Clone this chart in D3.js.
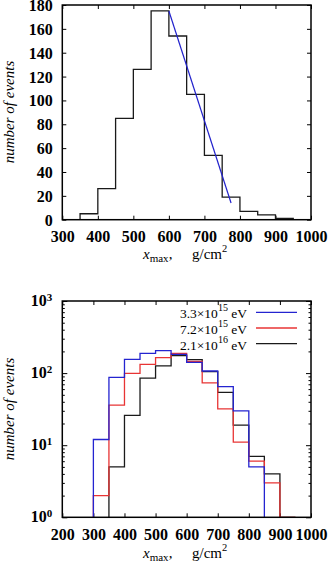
<!DOCTYPE html>
<meta charset="utf-8">
<title>xmax histograms</title>
<style>
body { margin: 0; background: #fff; }
svg { display: block; }
.tick text { font: bold 16px "Liberation Serif", "DejaVu Serif", serif; fill: #000; }
.tick line { stroke: #000; stroke-width: 1; }
.title { font: 15px "Liberation Serif", serif; fill: #000; }
.key { font: 13.5px "Liberation Serif", serif; fill: #000; }
</style>
<svg id="chart" width="328" height="570"></svg>
<script src="https://d3js.org/d3.v7.min.js"></script>
<script>

// top panel: single histogram, bins of 50 g/cm2
var topBins = [350, 400, 450, 500, 550, 600, 650, 700, 750, 800, 850, 900];
var topCounts = [5, 26, 85, 126, 175, 154, 105, 54, 19, 7, 4, 1];
var fitLine = [[600, 175], [775, 14]];
var topXTicks = [300, 400, 500, 600, 700, 800, 900, 1000];
var topYTicks = [0, 20, 40, 60, 80, 100, 120, 140, 160, 180];

// bottom panel: three energies, log scale
var binsBlue = [300, 350, 400, 450, 500, 550, 600, 650, 700, 750, 800];
var countsBlue = [12, 87, 155, 188, 205, 182, 141, 107, 65, 30, 5];
var binsRed = [300, 350, 400, 450, 500, 550, 600, 650, 700, 750, 800, 850, 900];
var countsRed = [2, 36, 99, 132, 164, 188, 145, 73, 32, 11, 6, 3, 1];
var binsBlack = [350, 400, 450, 500, 550, 600, 650, 700, 750, 800, 850, 900];
var countsBlack = [5, 26, 85, 126, 175, 154, 105, 54, 19, 7, 4, 1];
var keyLabels = [["3.3\u00d710", "15"], ["7.2\u00d710", "15"], ["2.1\u00d710", "16"]];
var botXTicks = [200, 300, 400, 500, 600, 700, 800, 900, 1000];
var botYTicks = [1, 10, 100, 1000];

var binWidth = 50;
var svg = d3.select("#chart");
var fmt = d3.format("d");

function stepPoints(bins, counts, floor) {
  var pts = [[bins[0], floor]];
  bins.forEach(function(b, i) { pts.push([b, counts[i]]); });
  pts.push([bins[bins.length - 1] + binWidth, floor]);
  return pts;
}

function frame(g, x0, x1, y0, y1) {
  g.append("rect")
    .attr("x", x0).attr("y", y1)
    .attr("width", x1 - x0).attr("height", y0 - y1)
    .attr("fill", "none").attr("stroke", "#000").attr("stroke-width", 1.5);
}

function xTitle(g, x, y) {
  var t = g.append("text").attr("class", "title").attr("x", x).attr("y", y);
  t.append("tspan").style("font-style", "italic").text("x");
  t.append("tspan").attr("dy", 3).style("font-size", "11px").text("max");
  t.append("tspan").attr("dy", -3).text(",");
  t.append("tspan").attr("x", x + 49).text("g/cm");
  t.append("tspan").attr("dy", -7).style("font-size", "10.5px").text("2");
}

function yTitle(g, x, cy) {
  g.append("text").attr("class", "title")
    .attr("transform", "translate(" + x + "," + cy + ") rotate(-90)")
    .attr("text-anchor", "middle")
    .style("font-style", "italic")
    .text("number of events");
}

// ---------- top panel ----------
var L = 62.3, R = 311;
var x1 = d3.scaleLinear().domain([300, 1000]).range([L, R]);
var y1 = d3.scaleLinear().domain([0, 180]).range([219.7, 5]);
var g1 = svg.append("g");

g1.append("g").attr("transform", "translate(0," + y1(0) + ")")
  .call(d3.axisBottom(x1).tickValues(topXTicks).tickSize(-4).tickPadding(11).tickFormat(fmt))
  .call(function(a) { a.select(".domain").remove(); });
g1.append("g").attr("transform", "translate(0," + y1(180) + ")")
  .call(d3.axisTop(x1).tickValues(topXTicks).tickSize(-4).tickFormat(""))
  .call(function(a) { a.select(".domain").remove(); });
g1.append("g").attr("transform", "translate(" + L + ",0)")
  .call(d3.axisLeft(y1).tickValues(topYTicks).tickSize(-4).tickPadding(9.5))
  .call(function(a) { a.select(".domain").remove(); a.selectAll("text").attr("dy", "0.34em"); });
g1.append("g").attr("transform", "translate(" + R + ",0)")
  .call(d3.axisRight(y1).tickValues(topYTicks).tickSize(-4).tickFormat(""))
  .call(function(a) { a.select(".domain").remove(); });

var line1 = d3.line().x(function(d) { return x1(d[0]); }).y(function(d) { return y1(d[1]); });

g1.append("path")
  .attr("d", line1.curve(d3.curveStepAfter)(stepPoints(topBins, topCounts, 0)))
  .attr("fill", "none").attr("stroke", "#1a1a1a").attr("stroke-width", 1.3);
g1.append("path")
  .attr("d", d3.line().x(function(d) { return x1(d[0]); }).y(function(d) { return y1(d[1]); })(fitLine))
  .attr("fill", "none").attr("stroke", "#2222cc").attr("stroke-width", 1.2);

frame(g1, L, R, y1(0), y1(180));
xTitle(g1, 143, 258.5);
yTitle(g1, 13.5, 112);

// ---------- bottom panel ----------
var x2 = d3.scaleLinear().domain([200, 1000]).range([L, R]);
var y2 = d3.scaleLog().domain([1, 1000]).range([517.3, 301]);
var g2 = svg.append("g");

var minor = [];
[1, 10, 100].forEach(function(d) { for (var k = 2; k < 10; k++) minor.push(d * k); });

g2.append("g").attr("transform", "translate(0," + y2(1) + ")")
  .call(d3.axisBottom(x2).tickValues(botXTicks).tickSize(-4).tickPadding(11).tickFormat(fmt))
  .call(function(a) { a.select(".domain").remove(); });
g2.append("g").attr("transform", "translate(0," + y2(1000) + ")")
  .call(d3.axisTop(x2).tickValues(botXTicks).tickSize(-4).tickFormat(""))
  .call(function(a) { a.select(".domain").remove(); });

[["left", L], ["right", R]].forEach(function(s) {
  var maj = s[0] === "left" ? d3.axisLeft(y2) : d3.axisRight(y2);
  var mnr = s[0] === "left" ? d3.axisLeft(y2) : d3.axisRight(y2);
  g2.append("g").attr("transform", "translate(" + s[1] + ",0)")
    .call(maj.tickValues(botYTicks).tickSize(-5).tickFormat(""))
    .call(function(a) { a.select(".domain").remove(); });
  g2.append("g").attr("transform", "translate(" + s[1] + ",0)")
    .call(mnr.tickValues(minor).tickSize(-2.5).tickFormat(""))
    .call(function(a) { a.select(".domain").remove(); });
});

// power-of-ten labels
botYTicks.forEach(function(v) {
  var t = g2.append("text")
    .attr("x", L - 10).attr("y", y2(v)).attr("dy", "0.32em")
    .attr("text-anchor", "end")
    .style("font", "bold 16px 'Liberation Serif', serif");
  t.append("tspan").text("10");
  t.append("tspan").attr("dy", "-0.45em").style("font-size", "11px")
    .text(Math.round(Math.log10(v)));
});

var line2 = d3.line().curve(d3.curveStepAfter)
  .x(function(d) { return x2(d[0]); })
  .y(function(d) { return y2(Math.max(d[1], 1)); });

var series = [
  { bins: binsBlue, counts: countsBlue, color: "#2424d0" },
  { bins: binsRed, counts: countsRed, color: "#e83434" },
  { bins: binsBlack, counts: countsBlack, color: "#1a1a1a" }
];

g2.selectAll("path.hist")
  .data(series.slice().reverse())
  .enter().append("path")
  .attr("class", "hist")
  .attr("d", function(d) { return line2(stepPoints(d.bins, d.counts, 0)); })
  .attr("fill", "none")
  .attr("stroke", function(d) { return d.color; })
  .attr("stroke-width", 1.3);

// key
var keyY = d3.scaleLinear().domain([0, 2]).range([312.3, 343.7]);
series.forEach(function(s, i) {
  var yy = keyY(i);
  var t = g2.append("text").attr("class", "key")
    .attr("x", 247).attr("y", yy + 6).attr("text-anchor", "end");
  t.append("tspan").text(keyLabels[i][0]);
  t.append("tspan").attr("dy", -7).style("font-size", "10px").text(keyLabels[i][1]);
  t.append("tspan").attr("dy", 7).text("\u00a0eV");
  g2.append("line")
    .attr("x1", 256).attr("x2", 297).attr("y1", yy).attr("y2", yy)
    .attr("stroke", s.color).attr("stroke-width", 1.3);
});

frame(g2, L, R, y2(1), y2(1000));
xTitle(g2, 143, 558);
yTitle(g2, 13.5, 409);

</script>
